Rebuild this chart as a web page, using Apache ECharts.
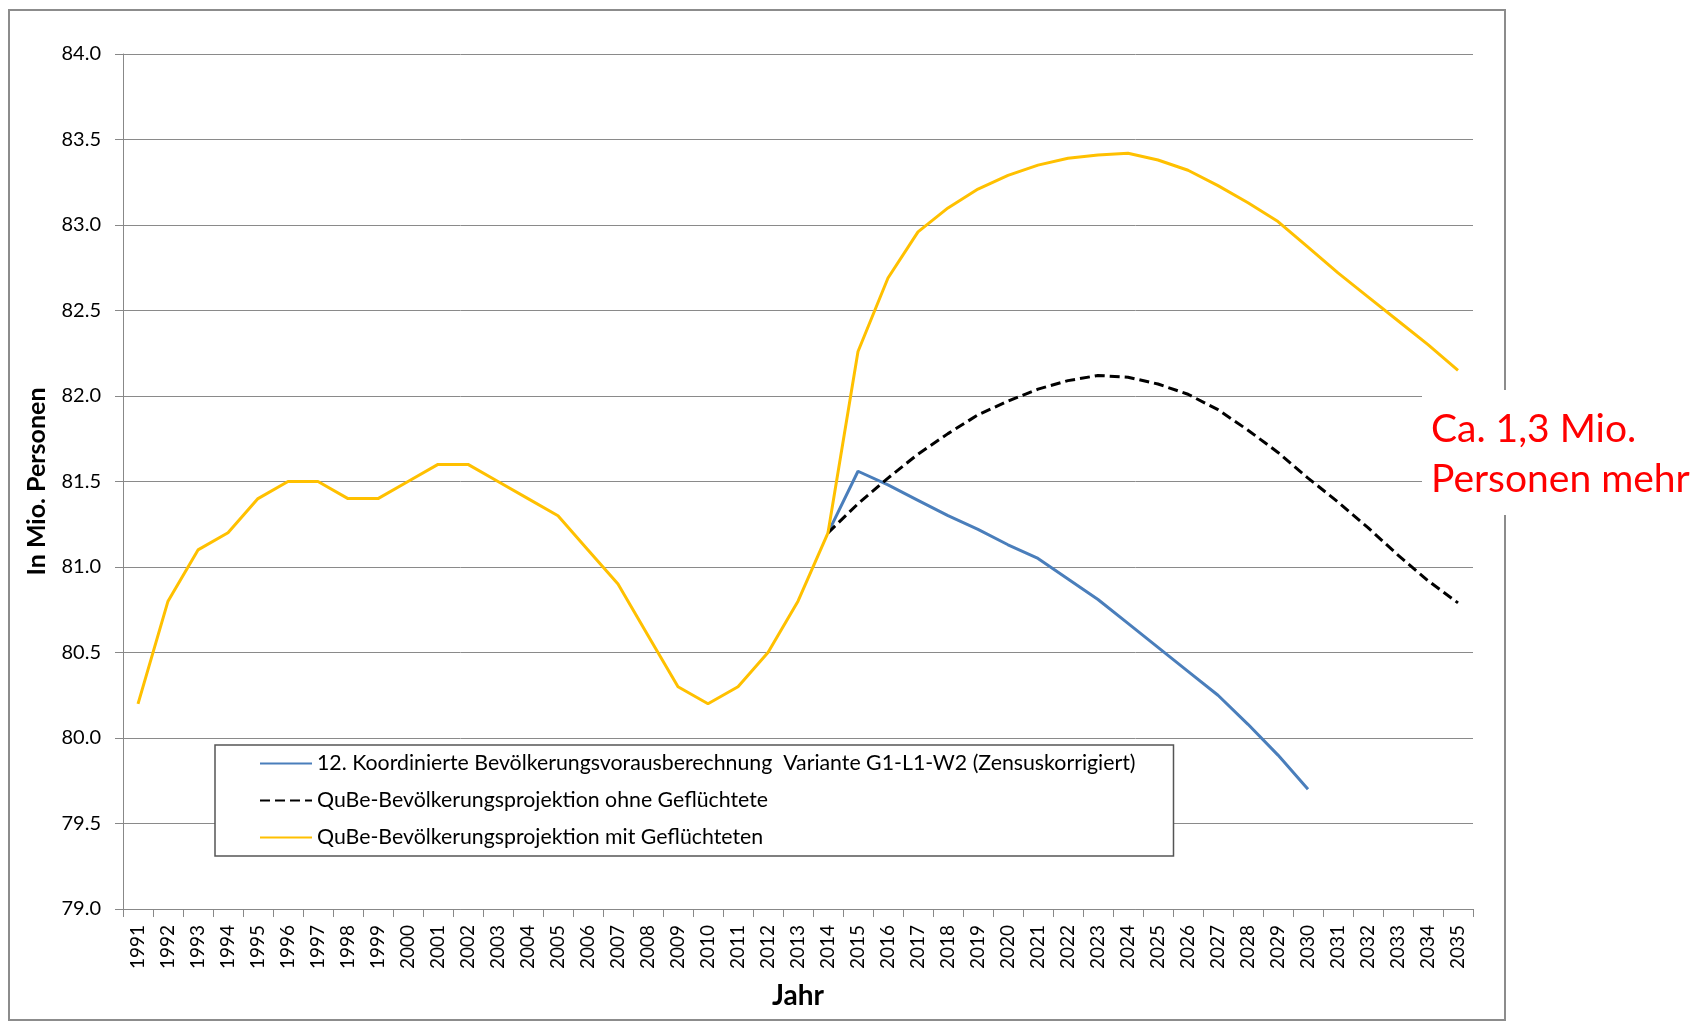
<!DOCTYPE html>
<html>
<head>
<meta charset="utf-8">
<title>Bevölkerungsprojektion</title>
<script src="https://cdn.jsdelivr.net/npm/echarts@6/dist/echarts.min.js"></script>
<style>
  html, body { margin: 0; padding: 0; background: #fff; }
  #chart { width: 1697px; height: 1023px; }
</style>
</head>
<body>
<div id="chart"></div>
<script>
  // Jahre
  var years = ['1991','1992','1993','1994','1995','1996','1997','1998','1999','2000',
    '2001','2002','2003','2004','2005','2006','2007','2008','2009','2010',
    '2011','2012','2013','2014','2015','2016','2017','2018','2019','2020',
    '2021','2022','2023','2024','2025','2026','2027','2028','2029','2030',
    '2031','2032','2033','2034','2035'];

  var nameKoord = '12. Koordinierte Bevölkerungsvorausberechnung  Variante G1-L1-W2 (Zensuskorrigiert)';
  var nameOhne = 'QuBe-Bevölkerungsprojektion ohne Geflüchtete';
  var nameMit = 'QuBe-Bevölkerungsprojektion mit Geflüchteten';

  // 12. koordinierte Vorausberechnung (ab 2014)
  var koord = [null,null,null,null,null,null,null,null,null,null,
    null,null,null,null,null,null,null,null,null,null,
    null,null,null,81.2,81.56,81.48,81.39,81.3,81.22,81.13,
    81.05,80.93,80.81,80.67,80.53,80.39,80.25,80.08,79.9,79.7,
    null,null,null,null,null];

  // QuBe ohne Geflüchtete (ab 2014)
  var ohne = [null,null,null,null,null,null,null,null,null,null,
    null,null,null,null,null,null,null,null,null,null,
    null,null,null,81.2,81.37,81.52,81.66,81.78,81.89,81.97,
    82.04,82.09,82.12,82.11,82.07,82.01,81.92,81.8,81.67,81.52,
    81.38,81.23,81.07,80.92,80.79];

  // QuBe mit Geflüchteten (inkl. Ist-Werte)
  var mit = [80.2,80.8,81.1,81.2,81.4,81.5,81.5,81.4,81.4,81.5,
    81.6,81.6,81.5,81.4,81.3,81.1,80.9,80.6,80.3,80.2,
    80.3,80.5,80.8,81.2,82.26,82.69,82.96,83.1,83.21,83.29,
    83.35,83.39,83.41,83.42,83.38,83.32,83.23,83.13,83.02,82.87,
    82.72,82.58,82.44,82.3,82.15];

  var chart = echarts.init(document.getElementById('chart'));
  var font = 'Lato';

  chart.setOption({
    animation: false,
    backgroundColor: '#fff',
    grid: { left: 123, top: 54, width: 1350, height: 855 },
    legend: {
      orient: 'vertical',
      left: 215,
      top: 745,
      padding: [8, 38, 8, 44],
      itemWidth: 52,
      itemHeight: 19,
      itemGap: 16,
      borderColor: '#555',
      borderWidth: 1.5,
      backgroundColor: '#fff',
      itemStyle: { opacity: 0 },
      textStyle: { fontFamily: font, fontSize: 21.3, color: '#000' },
      data: [nameKoord, nameOhne, nameMit]
    },
    xAxis: {
      type: 'category',
      data: years,
      boundaryGap: true,
      name: 'Jahr',
      nameLocation: 'middle',
      nameGap: 73,
      nameTextStyle: { fontFamily: font, fontSize: 28, fontWeight: 'bold', color: '#000' },
      axisLine: { lineStyle: { color: '#888', width: 1 } },
      axisTick: { show: true, length: 8, lineStyle: { color: '#888' } },
      axisLabel: { interval: 0, rotate: 90, margin: 16, fontFamily: font, fontSize: 19, color: '#000' }
    },
    yAxis: {
      type: 'value',
      min: 79,
      max: 84,
      interval: 0.5,
      name: 'In Mio. Personen',
      nameLocation: 'middle',
      nameGap: 74,
      nameTextStyle: { fontFamily: font, fontSize: 25, fontWeight: 'bold', color: '#000' },
      axisLine: { show: true, lineStyle: { color: '#888', width: 1 } },
      axisTick: { show: true, length: 8, lineStyle: { color: '#888' } },
      axisLabel: {
        margin: 22, fontFamily: font, fontSize: 20, color: '#000',
        formatter: function (v) { return v.toFixed(1); }
      },
      splitLine: { lineStyle: { color: '#8a8a8a', width: 1 } }
    },
    series: [
      {
        name: nameKoord, type: 'line', data: koord, symbol: 'none',
        lineStyle: { color: '#4a7ebb', width: 3 }, itemStyle: { color: '#4a7ebb' }
      },
      {
        name: nameOhne, type: 'line', data: ohne, symbol: 'none',
        lineStyle: { color: '#000', width: 3, type: [10, 5] }, itemStyle: { color: '#000' }
      },
      {
        name: nameMit, type: 'line', data: mit, symbol: 'none',
        lineStyle: { color: '#ffc000', width: 3 }, itemStyle: { color: '#ffc000' }
      }
    ],
    graphic: [
      {
        type: 'rect', z: -10, silent: true,
        shape: { x: 9, y: 10, width: 1496, height: 1010 },
        style: { fill: 'none', stroke: '#8c8c8c', lineWidth: 2 }
      },
      {
        type: 'rect', z: 100, silent: true,
        shape: { x: 1422, y: 390, width: 275, height: 125 },
        style: { fill: '#fff' }
      },
      {
        type: 'text', z: 101, silent: true,
        x: 1431, y: 404,
        style: {
          text: 'Ca. 1,3 Mio.\nPersonen mehr',
          fill: '#ff0000',
          fontFamily: font,
          fontSize: 39,
          lineHeight: 50,
          verticalAlign: 'top'
        }
      }
    ]
  });
</script>
</body>
</html>
